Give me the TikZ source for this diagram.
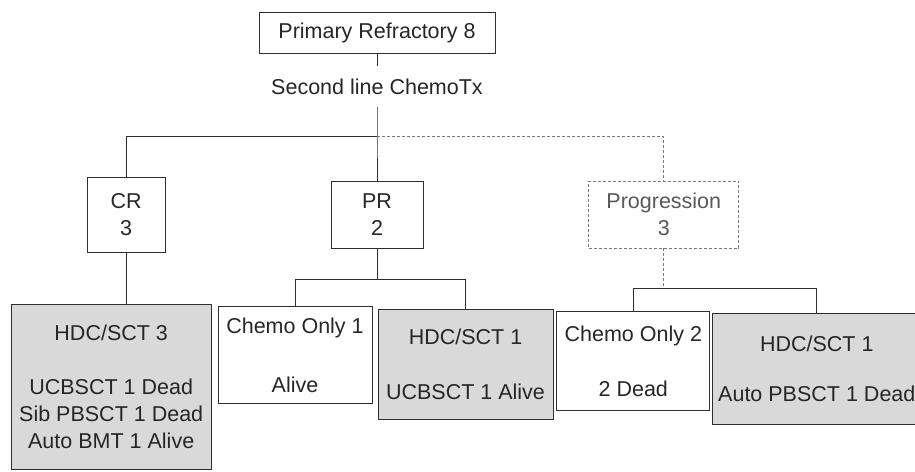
\documentclass[tikz,border=0pt]{standalone}
\usepackage{fontspec}
\setmainfont{Liberation Sans}
\usetikzlibrary{positioning}
\definecolor{inkline}{HTML}{2E2E2E}
\definecolor{inktext}{HTML}{262626}
\definecolor{stipple}{HTML}{D9D9D9}
\definecolor{fadeline}{HTML}{7A7A7A}

\begin{document}
\begin{tikzpicture}[
    font=\fontsize{21.5}{27}\selectfont,
    box/.style={draw=inkline, line width=0.8pt, text=inktext, align=center, inner sep=0pt},
    shaded/.style={box, fill=stipple},
    faint/.style={box, draw=fadeline, densely dashed, text=black!65},
    link/.style={draw=inkline, line width=0.8pt},
    dlink/.style={link, draw=fadeline, densely dashed}
]
\useasboundingbox (0,0) rectangle (915pt,-471pt);

% nodes
\node[box, minimum width=236pt, minimum height=41pt] (top) at (377pt,-32.5pt) {Primary Refractory 8};
\node[below=13pt of top, inner xsep=0pt, inner ysep=12pt, text=inktext] (chemo) {Second line ChemoTx};
\node[box, below=74pt of chemo, minimum width=92pt, minimum height=67pt] (pr) {PR\\2};
\node[box, left=165pt of pr, minimum width=78pt, minimum height=75pt] (cr) {CR\\3};
\node[faint, right=165pt of pr, minimum width=150pt, minimum height=67pt] (prog) {Progression\\3};

% second level
\node[shaded, below=52pt of cr, xshift=-15pt, minimum width=200pt, minimum height=165pt] (hdccr)
    {HDC/SCT 3\\[27pt]UCBSCT 1 Dead\\Sib PBSCT 1 Dead\\Auto BMT 1 Alive};
\node[box, below=58pt of pr, xshift=-82pt, minimum width=154pt, minimum height=97pt] (onlypr)
    {Chemo Only 1\\[32pt]Alive};
\node[shaded, below=61pt of pr, xshift=88.5pt, minimum width=175pt, minimum height=110pt] (hdcpr)
    {HDC/SCT 1\\[28pt]UCBSCT 1 Alive};
\node[box, below=63pt of prog, xshift=-30.5pt, minimum width=153pt, minimum height=99pt] (onlyprog)
    {Chemo Only 2\\[28pt]2 Dead};
\node[shaded, below=65pt of prog, xshift=153pt, minimum width=208pt, minimum height=111pt] (hdcprog)
    {HDC/SCT 1\\[23pt]Auto PBSCT 1 Dead};

% branch points
\coordinate[below=30pt of chemo] (split1);
\coordinate[below=31pt of pr] (split2);
\coordinate[below=40pt of prog] (split3);

% connectors
\draw[link] (top) -- (chemo);
\draw[link] (chemo) -- (split1) -- (pr);
\draw[link] (split1) -| (cr);
\draw[dlink] (split1) -| (prog);
\draw[link] (cr.south) -- (cr.south |- hdccr.north);
\draw[link] (pr) -- (split2);
\draw[link] (split2) -| (onlypr);
\draw[link] (split2) -| (hdcpr);
\draw[dlink] (prog) -- (split3);
\draw[link] (split3) -| (onlyprog);
\draw[link] (split3) -| (hdcprog);

\end{tikzpicture}
\end{document}
